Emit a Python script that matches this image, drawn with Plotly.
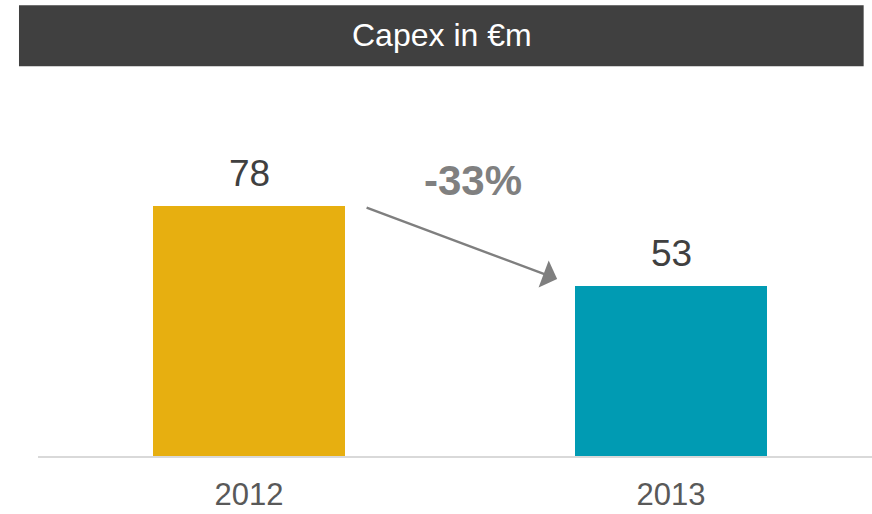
import plotly.graph_objects as go

# data
years = ["2012", "2013"]
capex = [78, 53]
bar_colors = ["#E7AF10", "#009BB3"]
change_label = "-33%"
title = "Capex in €m"

FONT = "Liberation Sans, Arial, sans-serif"

fig = go.Figure()
fig.add_trace(go.Bar(
    x=years, y=capex,
    marker=dict(color=bar_colors, line=dict(width=0)),
    width=0.455,
    hoverinfo="skip",
))

# value labels above the bars (category index as x, "2012" would be read as a number)
for i, v in enumerate(capex):
    fig.add_annotation(
        x=i, y=v, xref="x", yref="y",
        text=str(v), showarrow=False,
        yanchor="bottom", yshift=10,
        font=dict(family=FONT, size=37, color="#404040"),
    )

# arrow from 2012 to 2013, with the change label
fig.add_annotation(
    x=0.73, y=55.3, ax=0.275, ay=77.8,
    xref="x", yref="y", axref="x", ayref="y",
    text="", showarrow=True,
    arrowhead=1, arrowsize=2.0, arrowwidth=2.4, arrowcolor="#7F7F7F",
)
fig.add_annotation(
    x=0.53, y=86, xref="x", yref="y",
    text="<b>" + change_label + "</b>", showarrow=False,
    yanchor="middle",
    font=dict(family=FONT, size=42, color="#808080"),
)

# dark title band
fig.add_shape(
    type="rect", xref="paper", yref="paper",
    x0=-0.0228, x1=0.990, y0=1.010, y1=1.168,
    fillcolor="#404040", line=dict(width=0), layer="above",
)
fig.add_annotation(
    x=0.484, y=1.091, xref="paper", yref="paper",
    text=title, showarrow=False,
    xanchor="center", yanchor="middle",
    font=dict(family=FONT, size=32, color="white"),
)

fig.update_layout(
    width=872, height=514,
    margin=dict(l=38, r=0, t=70, b=58),
    paper_bgcolor="white", plot_bgcolor="white",
    showlegend=False,
    bargap=0,
)
fig.update_xaxes(
    type="category", range=[-0.5, 1.476], automargin=False,
    showline=True, linecolor="#D9D9D9", linewidth=2,
    showgrid=False, zeroline=False, ticks="",
    tickfont=dict(family=FONT, size=31, color="#595959"),
    ticklabelstandoff=10,
)
fig.update_yaxes(
    range=[0, 120.6], visible=False, showgrid=False, zeroline=False,
    automargin=False,
)

# drop the default 8px body margin so the figure fills the window exactly
fig.write_html(
    "out.html",
    config={"displayModeBar": False},
    post_script="document.body.style.margin='0';",
)
